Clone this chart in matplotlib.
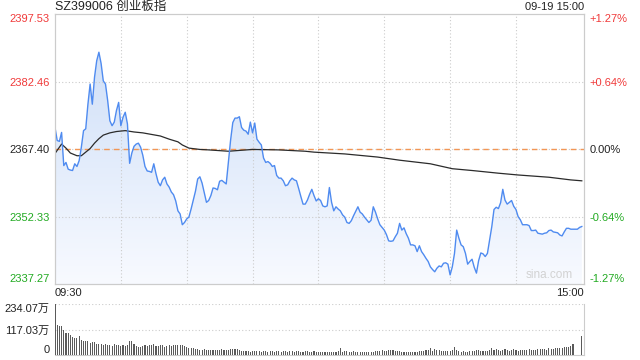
import numpy as np
import matplotlib
matplotlib.use("Agg")
import matplotlib.pyplot as plt
from matplotlib.colors import LinearSegmentedColormap
from matplotlib.patches import Polygon

plt.rcParams["font.family"] = ["Liberation Sans", "Noto Sans CJK SC"]

# ---- data --------------------------------------------------------------
title = "SZ399006 创业板指"
stamp = "09-19 15:00"
time_labels = ["09:30", "15:00"]

# one value per minute, 09:30 .. 15:00
price = [
    2372.2, 2369.3, 2369.1, 2371.1, 2363.7, 2364.4, 2362.9, 2362.7, 2362.6, 2364.1,
    2363.5, 2364.8, 2367.8, 2371.5, 2371.9, 2377.4, 2381.9, 2377.4, 2383.4, 2387.1,
    2389.0, 2386.5, 2382.6, 2381.9, 2378.2, 2373.7, 2372.6, 2373.4, 2376.0, 2377.8,
    2372.6, 2374.5, 2375.6, 2373.0, 2364.2, 2366.5, 2368.0, 2368.5, 2368.7, 2367.8,
    2366.0, 2363.5, 2362.5, 2362.4, 2362.2, 2364.1, 2361.9, 2360.0, 2359.2, 2360.5,
    2361.1, 2359.6, 2358.9, 2357.8, 2357.2, 2355.8, 2353.6, 2352.9, 2350.5, 2351.0,
    2351.8, 2352.2, 2354.0, 2356.0, 2358.0, 2360.7, 2361.2, 2359.8, 2357.7, 2355.5,
    2355.9, 2357.0, 2358.7, 2358.6, 2358.3, 2360.2, 2360.4, 2360.0, 2359.6, 2364.5,
    2369.4, 2373.3, 2374.3, 2374.3, 2374.6, 2372.2, 2371.6, 2371.4, 2370.7, 2373.4,
    2371.0, 2373.2, 2369.6, 2368.9, 2368.3, 2365.4, 2364.4, 2364.6, 2364.2, 2363.5,
    2363.7, 2361.5, 2360.9, 2360.9, 2360.3, 2359.2, 2359.4, 2360.3, 2360.9, 2360.5,
    2360.3, 2358.6, 2356.8, 2355.1, 2355.1, 2356.0, 2357.3, 2358.4, 2357.0, 2355.8,
    2356.3, 2355.9, 2354.7, 2354.5, 2354.7, 2358.8, 2355.5, 2353.6, 2354.5, 2354.0,
    2353.6, 2352.7, 2352.2, 2351.0, 2350.8, 2351.4, 2352.5, 2353.5, 2354.5, 2353.3,
    2352.9, 2352.2, 2351.6, 2351.0, 2351.5, 2354.5, 2353.3, 2351.8, 2350.5, 2349.9,
    2349.3, 2348.3, 2346.9, 2346.8, 2346.9, 2347.8, 2348.6, 2350.8, 2349.3, 2349.8,
    2348.5, 2347.5, 2346.0, 2346.0, 2345.8, 2344.5, 2345.8, 2344.5, 2343.8, 2343.0,
    2342.3, 2341.1, 2340.5, 2340.0, 2340.8, 2341.3, 2341.1, 2341.9, 2342.0, 2341.7,
    2339.3, 2341.1, 2344.1, 2349.3, 2347.5, 2346.0, 2345.6, 2344.1, 2341.7, 2342.3,
    2342.8, 2341.0, 2339.7, 2342.5, 2344.2, 2344.0, 2343.4, 2344.1, 2347.1, 2350.1,
    2353.9, 2354.4, 2354.1, 2355.4, 2358.4, 2356.0, 2355.1, 2355.5, 2355.9, 2354.6,
    2353.9, 2352.3, 2351.6, 2350.5, 2350.5, 2350.5, 2350.3, 2349.2, 2349.2, 2349.3,
    2348.6, 2348.5, 2348.4, 2348.6, 2348.7, 2349.2, 2349.3, 2348.9, 2348.8, 2348.7,
    2348.2, 2348.0, 2348.9, 2349.7, 2349.7, 2349.5, 2349.5, 2349.5, 2349.5, 2349.9,
    2350.1,
]

# average price line (minute, value)
avg_minute = [0, 3, 5, 7, 10, 12, 14, 16, 18, 20, 22, 25, 28, 32, 36, 40, 48, 52,
              56, 58, 61, 66, 70, 79, 90, 102, 114, 118, 132, 147, 157, 171, 181,
              190, 202, 211, 225, 235, 240]
avg_price = [2366.4, 2368.5, 2367.6, 2366.5, 2365.9, 2365.9, 2366.7, 2367.5, 2368.7,
             2369.7, 2370.5, 2371.0, 2371.3, 2371.5, 2371.2, 2371.0, 2370.3, 2369.6,
             2369.0, 2368.3, 2367.6, 2367.3, 2367.2, 2366.9, 2367.3, 2367.2, 2366.9,
             2366.7, 2366.3, 2365.6, 2364.9, 2364.1, 2363.0, 2362.6, 2362.0, 2361.6,
             2361.1, 2360.5, 2360.3]

# volume per minute, in 万
volume = [
    234, 139, 131, 134, 115, 103, 103, 92, 82, 77,
    77, 88, 69, 65, 62, 62, 54, 60, 59, 51,
    51, 51, 48, 51, 48, 45, 42, 51, 45, 46,
    43, 45, 42, 44, 62, 66, 52, 40, 36, 38,
    40, 44, 42, 45, 46, 50, 43, 41, 44, 46,
    38, 40, 44, 42, 46, 48, 46, 44, 47, 40,
    36, 31, 32, 30, 28, 27, 25, 24, 26, 23,
    24, 22, 25, 24, 22, 23, 26, 24, 22, 23,
    28, 29, 28, 27, 22, 18, 17, 19, 18, 16,
    18, 17, 19, 18, 16, 17, 18, 16, 19, 17,
    16, 18, 17, 16, 20, 17, 15, 18, 17, 16,
    18, 17, 16, 15, 17, 19, 16, 15, 18, 15,
    15, 14, 16, 15, 16, 15, 14, 15, 16, 17,
    33, 16, 17, 18, 15, 16, 17, 15, 14, 16,
    15, 16, 15, 14, 15, 16, 17, 18, 17, 22,
    18, 19, 22, 23, 21, 19, 17, 18, 16, 15,
    15, 14, 16, 15, 14, 16, 17, 18, 19, 22,
    25, 34, 20, 29, 22, 21, 20, 19, 17, 18,
    19, 25, 35, 23, 18, 16, 17, 16, 15, 17,
    18, 20, 22, 23, 20, 18, 17, 19, 22, 30,
    24, 26, 25, 20, 22, 26, 21, 20, 24, 27,
    22, 20, 21, 23, 24, 22, 26, 25, 23, 24,
    26, 27, 26, 28, 25, 30, 27, 29, 32, 31,
    34, 33, 35, 38, 36, 42, 51, 1, 1, 1, 85,
]

prev_close = 2367.40
price_ticks = [2337.27, 2352.33, 2367.40, 2382.46, 2397.53]
price_labels = ["2337.27", "2352.33", "2367.40", "2382.46", "2397.53"]
pct_labels = ["-1.27%", "-0.64%", "0.00%", "+0.64%", "+1.27%"]
vol_ticks = [0, 117.03, 234.07]
vol_labels = ["0", "117.03万", "234.07万"]

# ---- styling --------------------------------------------------------------
RED, GREEN, DARK = "#f03a3a", "#22aa22", "#222222"
GRID = "#cccccc"
tick_colors = [GREEN, GREEN, DARK, RED, RED]
n_min = 241
minutes = np.arange(len(price))
lo, hi = price_ticks[0], price_ticks[-1]

fig = plt.figure(figsize=(6.4, 3.6), dpi=100)
ax = fig.add_axes([55 / 640, 76 / 360, 529 / 640, 270 / 360])
axv = fig.add_axes([55 / 640, 5 / 360, 529 / 640, 51 / 360])

# gradient area under the price line
verts = np.column_stack([np.r_[minutes, minutes[-1], minutes[0]],
                         np.r_[price, lo, lo]])
clip = Polygon(verts, closed=True, facecolor="none", edgecolor="none")
ax.add_patch(clip)
cmap = LinearSegmentedColormap.from_list("fill", ["#f8faff", "#d0e0f8"])
grad = np.linspace(0, 1, 256).reshape(-1, 1)
im = ax.imshow(grad, extent=[0, n_min, lo, max(price)], origin="lower",
               aspect="auto", cmap=cmap, zorder=1)
im.set_clip_path(clip)

# grid
for t in price_ticks[1:-1]:
    ax.axhline(t, color=GRID, ls=(0, (1, 2)), lw=0.8, zorder=2)
for m in range(30, 240, 30):
    ax.axvline(m, color=GRID, ls=(0, (1, 2)), lw=0.8, zorder=2)
ax.axhline(prev_close, color="#f29655", ls=(0, (4, 3)), lw=1.0, zorder=2.5)

ax.plot(avg_minute, avg_price, color="#2b2b2b", lw=0.9, zorder=3)
ax.plot(minutes, price, color="#4f8bf0", lw=1.0, zorder=4)

ax.set_xlim(0, n_min)
ax.set_ylim(lo, hi)
ax.set_yticks(price_ticks)
ax.set_yticklabels(price_labels, fontsize=8)
ax.tick_params(axis="y", length=0, pad=4)
ylabs = ax.get_yticklabels()
for lab, c in zip(ylabs, tick_colors):
    lab.set_color(c)
ylabs[0].set_va("bottom")
ylabs[-1].set_va("top")

ax.set_xticks([0, n_min])
ax.set_xticklabels(time_labels, fontsize=8, color=DARK)
ax.tick_params(axis="x", length=0, pad=3)
xlabs = ax.get_xticklabels()
xlabs[0].set_ha("left")
xlabs[1].set_ha("right")
for s in ax.spines.values():
    s.set_color(GRID)

axr = ax.twinx()
axr.set_ylim(lo, hi)
axr.set_yticks(price_ticks)
axr.set_yticklabels(pct_labels, fontsize=8)
axr.tick_params(axis="y", length=0, pad=4)
rlabs = axr.get_yticklabels()
for lab, c in zip(rlabs, tick_colors):
    lab.set_color(c)
rlabs[0].set_va("bottom")
rlabs[-1].set_va("top")
for s in axr.spines.values():
    s.set_color(GRID)

ax.text(0.979, 0.01, "sina.com", transform=ax.transAxes, ha="right", va="bottom",
        color="#d2d2d2", fontsize=8.5, zorder=5)

# volume panel
axv.bar(minutes, volume, width=0.5, color="#5a5a5a", zorder=3)
axv.set_xlim(0, n_min)
axv.set_ylim(0, vol_ticks[-1])
for t in vol_ticks[1:]:
    axv.axhline(t, color=GRID, ls=(0, (1, 2)), lw=0.8, zorder=1)
axv.set_xticks([])
axv.set_yticks(vol_ticks)
axv.set_yticklabels(vol_labels, fontsize=8, color=DARK)
axv.tick_params(axis="y", length=0, pad=4)
vlabs = axv.get_yticklabels()
vlabs[0].set_va("bottom")
vlabs[-1].set_va("top")
axv.spines["top"].set_visible(False)
axv.spines["left"].set_visible(False)
axv.spines["right"].set_color(GRID)
axv.spines["bottom"].set_color(GRID)

fig.text(55 / 640, 1 - 7 / 360, title, ha="left", va="center", fontsize=9, color=DARK)
fig.text(584 / 640, 1 - 7 / 360, stamp, ha="right", va="center", fontsize=8, color=DARK)

fig.savefig("out.png", dpi=100)
